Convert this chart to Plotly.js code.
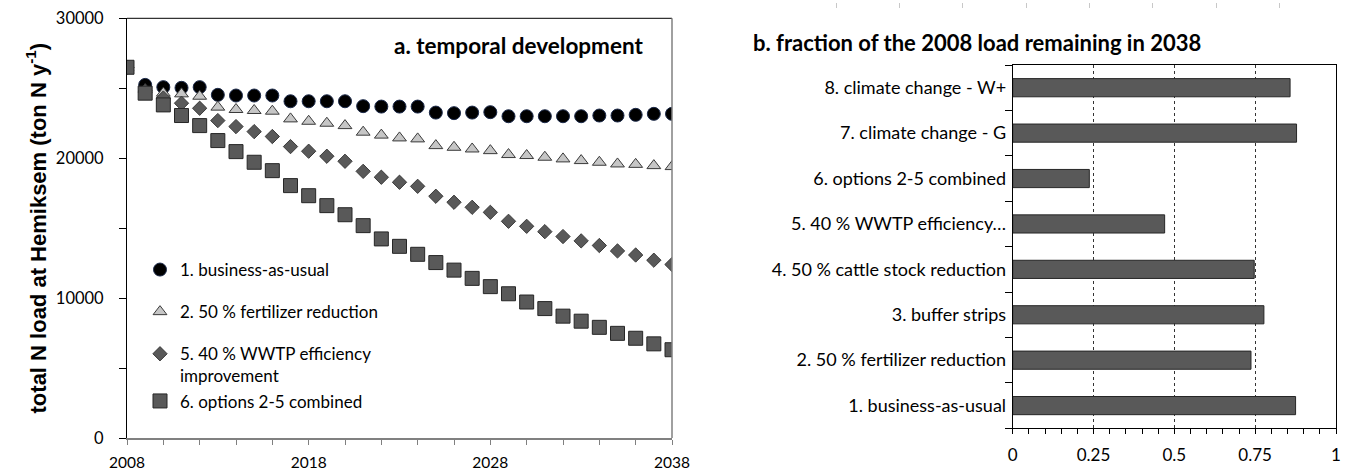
<!DOCTYPE html>
<html>
<head>
<meta charset="utf-8">
<script src="https://cdn.plot.ly/plotly-3.0.1.min.js"></script>
<style>html,body{margin:0;padding:0;background:#fff;}#chart{width:1351px;height:471px;}</style>
</head>
<body>
<div id="chart"></div>
<script>
// ---- data (panel a) ----
const years = [2008,2009,2010,2011,2012,2013,2014,2015,2016,2017,2018,2019,2020,2021,2022,2023,2024,2025,2026,2027,2028,2029,2030,2031,2032,2033,2034,2035,2036,2037,2038];
const businessAsUsual = [26500,25240,25080,25030,25080,24530,24480,24480,24480,24070,24070,24070,24070,23720,23690,23690,23690,23260,23220,23260,23290,23000,23000,23000,23000,23000,23050,23050,23100,23170,23170];
const fertilizerReduction = [26500,24900,24650,24600,24430,23650,23480,23410,23360,22810,22640,22500,22330,21860,21650,21450,21380,20900,20780,20660,20540,20260,20190,20070,19950,19830,19710,19590,19560,19470,19400];
const wwtpImprovement = [26500,24800,24300,23930,23570,22690,22260,21900,21550,20830,20500,20140,19780,19060,18640,18280,17990,17280,16850,16490,16130,15490,15130,14750,14400,14090,13760,13370,13080,12710,12400];
const optionsCombined = [26500,24650,23810,23050,22330,21260,20470,19710,19110,18040,17320,16610,15960,15180,14230,13700,13130,12540,12000,11410,10820,10310,9720,9250,8710,8350,7910,7480,7130,6730,6310];
const seriesNames = ["1. business-as-usual","2. 50 % fertilizer reduction","5. 40 % WWTP efficiency<br>improvement","6. options 2-5 combined"];
const xTickLabels = ["2008","2018","2028","2038"];

// ---- data (panel b) ----
const scenarios = ["1. business-as-usual","2. 50 % fertilizer reduction","3. buffer strips","4. 50 % cattle stock reduction","5. 40 % WWTP efficiency…","6. options 2-5 combined","7. climate change - G","8. climate change - W+"];
const fractionRemaining = [0.875,0.737,0.777,0.747,0.470,0.237,0.878,0.858];
const fracTickVals = [0,0.25,0.5,0.75,1];
const fracTickText = ["0","0.25","0.5","0.75","1"];
const topTickVals = [0,1,2,3,4,5,6,7,8,9];

const W = 1351, H = 471;
const px = v => v / W;
const py = v => 1 - v / H;
const FONT = "Lato, 'Open Sans', sans-serif";

const traces = [
  {x: years, y: businessAsUsual, name: seriesNames[0], type: 'scatter', mode: 'markers', xaxis: 'x', yaxis: 'y', legendgroup: 'g1',
   marker: {symbol: 'circle', size: 13, color: '#000000', line: {color: '#1c2a4a', width: 1}}},
  {x: years, y: fertilizerReduction, name: seriesNames[1], type: 'scatter', mode: 'markers', xaxis: 'x', yaxis: 'y', legendgroup: 'g2',
   marker: {symbol: 'triangle-up', size: 12, color: '#c6c6c6', line: {color: '#3a3a3a', width: 1}}},
  {x: years, y: wwtpImprovement, name: seriesNames[2], type: 'scatter', mode: 'markers', xaxis: 'x', yaxis: 'y', legendgroup: 'g3',
   marker: {symbol: 'diamond', size: 11, color: '#595959', line: {color: '#3a3a3a', width: 1}}},
  {x: years, y: optionsCombined, name: seriesNames[3], type: 'scatter', mode: 'markers', xaxis: 'x', yaxis: 'y', legendgroup: 'g3',
   marker: {symbol: 'square', size: 14, color: '#595959', line: {color: '#262626', width: 1}}},
  {x: fractionRemaining, y: scenarios, type: 'bar', orientation: 'h', xaxis: 'x2', yaxis: 'y2', showlegend: false,
   marker: {color: '#595959', line: {color: '#262626', width: 1}}},
  {x: [], y: [], type: 'scatter', mode: 'markers', xaxis: 'x3', yaxis: 'y3', showlegend: false, hoverinfo: 'skip'}
];

const layout = {
  width: W, height: H,
  margin: {l: 0, r: 0, t: 0, b: 0},
  paper_bgcolor: '#ffffff', plot_bgcolor: '#ffffff',
  font: {family: FONT, color: '#000000', size: 15},
  showlegend: true,
  legend: {x: px(140), y: py(252), xanchor: 'left', yanchor: 'top', bgcolor: 'rgba(0,0,0,0)',
           font: {family: FONT, size: 17, color: '#000'}, valign: 'top', tracegroupgap: 17, itemsizing: 'trace'},
  bargap: 0.6,
  xaxis: {domain: [px(127), px(672)], anchor: 'y', range: [2008, 2038],
          tickmode: 'array', tickvals: xTickLabels.map(Number), ticktext: xTickLabels,
          ticks: 'outside', ticklen: 5, tickcolor: '#808080', tickwidth: 1,
          minor: {dtick: 2, tick0: 2008, ticks: 'outside', ticklen: 5, tickcolor: '#808080', showgrid: false},
          showline: true, linecolor: '#808080', linewidth: 1.5, showgrid: false, zeroline: false,
          tickfont: {family: FONT, size: 15.5, color: '#000'}, ticklabelstandoff: 5, fixedrange: true},
  yaxis: {domain: [py(438), py(18.3)], anchor: 'x', range: [0, 30000], dtick: 10000, tick0: 0,
          ticks: 'outside', ticklen: 7, tickcolor: '#000', tickwidth: 1,
          minor: {dtick: 5000, ticks: 'outside', ticklen: 7, tickcolor: '#000', showgrid: false},
          showline: true, linecolor: '#000', linewidth: 1, showgrid: false, zeroline: false,
          tickformat: 'd', tickfont: {family: FONT, size: 16.5, color: '#000'}, ticklabelstandoff: 12,
          title: {text: 'total N load at Hemiksem (ton N y<sup>-1</sup>)', standoff: 3,
                  font: {family: "'Liberation Sans', Arial, sans-serif", size: 22, color: '#000', weight: 'bold'}},
          fixedrange: true},
  xaxis2: {domain: [px(1012.7), px(1336)], anchor: 'y2', range: [0, 1],
           tickmode: 'array', tickvals: fracTickVals, ticktext: fracTickText,
           ticks: 'outside', ticklen: 5, tickcolor: '#000', tickwidth: 1,
           minor: {dtick: 0.05, tick0: 0, ticks: 'outside', ticklen: 5, tickcolor: '#000', showgrid: false},
           showgrid: true, gridcolor: '#333333', gridwidth: 1, griddash: 'dot',
           showline: true, linecolor: '#000', linewidth: 1, mirror: true, zeroline: false,
           tickfont: {family: FONT, size: 17, color: '#000'}, ticklabelstandoff: 6, fixedrange: true},
  yaxis2: {domain: [py(428.3), py(65)], anchor: 'x2', type: 'category',
           categoryorder: 'array', categoryarray: scenarios,
           ticks: 'outside', tickson: 'boundaries', ticklen: 7, tickcolor: '#000',
           showline: true, linecolor: '#000', linewidth: 1, mirror: true, showgrid: false, zeroline: false,
           tickfont: {family: FONT, size: 18, color: '#000'}, ticklabelstandoff: 2, fixedrange: true},
  xaxis3: {domain: [px(773), px(1342.7)], anchor: 'y3', range: [0, 9], tickmode: 'array', tickvals: topTickVals,
           ticks: 'inside', ticklen: 5, tickcolor: '#c8c8c8', tickwidth: 1, showticklabels: false,
           showline: false, showgrid: false, zeroline: false, fixedrange: true},
  yaxis3: {domain: [py(8), 1], anchor: 'x3', visible: false, range: [0, 1], fixedrange: true},
  shapes: [
    {type: 'line', xref: 'x domain', yref: 'y domain', x0: 0, x1: 1, y0: 1, y1: 1, line: {color: '#000', width: 1}},
    {type: 'line', xref: 'x domain', yref: 'y domain', x0: 1, x1: 1, y0: 0, y1: 1, line: {color: '#808080', width: 1.5}}
  ],
  annotations: [
    {text: '<b>a. temporal development</b>', xref: 'paper', yref: 'paper', x: px(646), y: py(46),
     xanchor: 'right', yanchor: 'middle', showarrow: false, font: {family: FONT, size: 22.5, color: '#000'}},
    {text: '<b>b. fraction of the 2008 load remaining in 2038</b>', xref: 'paper', yref: 'paper', x: px(751), y: py(43),
     xanchor: 'left', yanchor: 'middle', showarrow: false, font: {family: FONT, size: 22, color: '#000'}}
  ]
};

Plotly.newPlot('chart', traces, layout, {displayModeBar: false, staticPlot: true});
</script>
</body>
</html>
